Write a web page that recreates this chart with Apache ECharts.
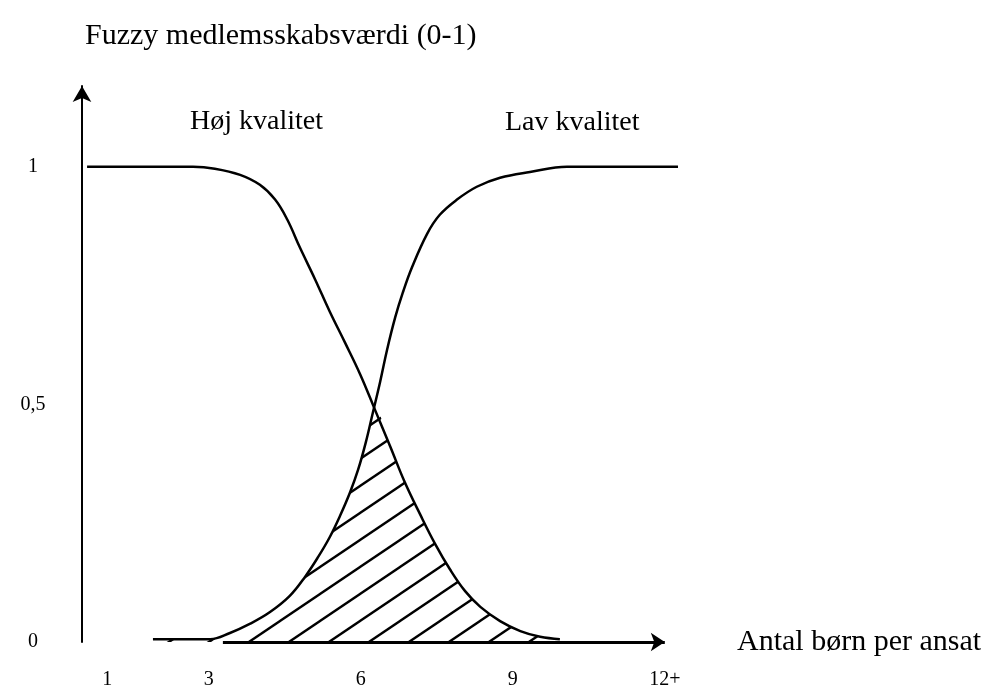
<!DOCTYPE html>
<html><head><meta charset="utf-8">
<script src="https://cdn.jsdelivr.net/npm/echarts@6/dist/echarts.min.js"></script>
<style>html,body{margin:0;padding:0;background:#fff}#chart{width:990px;height:690px}</style>
</head><body><div id="chart"></div>
<script>
// ---- data ----
const seriesNames = ['Høj kvalitet', 'Lav kvalitet'];
const highX = [0.6, 2.69, 3.12, 3.62, 4.01, 4.31, 4.55, 4.8, 5.1, 5.39, 5.69, 5.99, 6.28, 6.58, 6.87, 7.17, 7.47, 7.76, 8.06, 8.36, 8.75, 9.15, 9.54, 9.93];
const highY = [1, 1, 0.996, 0.983, 0.962, 0.931, 0.889, 0.83, 0.763, 0.695, 0.63, 0.563, 0.489, 0.412, 0.336, 0.269, 0.206, 0.153, 0.107, 0.074, 0.044, 0.023, 0.011, 0.006];
const lowX = [1.9, 3.03, 3.42, 3.81, 4.21, 4.6, 4.9, 5.16, 5.39, 5.59, 5.79, 5.95, 6.1, 6.24, 6.38, 6.52, 6.68, 6.83, 7.01, 7.31, 7.56, 7.9, 8.29, 8.75, 9.34, 10.07, 12.26];
const lowY = [0.006, 0.006, 0.019, 0.038, 0.063, 0.097, 0.137, 0.179, 0.221, 0.265, 0.315, 0.363, 0.42, 0.483, 0.546, 0.615, 0.683, 0.735, 0.788, 0.859, 0.899, 0.931, 0.958, 0.977, 0.989, 1, 1];
const xTickValues = [1, 3, 6, 9, 12];
const xTickLabels = ['1', '3', '6', '9', '12+'];
const yTickValues = [0, 0.5, 1];
const yTickLabels = ['0', '0,5', '1'];
const xAxisTitle = 'Antal børn per ansat';
const yAxisTitle = 'Fuzzy medlemsskabsværdi (0-1)';
const xAxisLineFrom = 3.28, xAxisLineTo = 12;

// ---- helpers ----
function interp(xs, ys, x) {
  if (x < xs[0] || x > xs[xs.length - 1]) return 0;
  for (let i = 1; i < xs.length; i++) {
    if (x <= xs[i]) {
      const t = (x - xs[i - 1]) / (xs[i] - xs[i - 1]);
      return ys[i - 1] + t * (ys[i] - ys[i - 1]);
    }
  }
  return ys[ys.length - 1];
}
const highPts = highX.map((x, i) => [x, highY[i]]);
const lowPts = lowX.map((x, i) => [x, lowY[i]]);
const overlap = lowPts.filter(p => p[1] <= interp(highX, highY, p[0]))
  .concat(highPts.filter(p => p[1] < interp(lowX, lowY, p[0])))
  .sort((a, b) => a[0] - b[0]);

function makeHatch() {
  const W = 40, H = 27;
  const c = document.createElement('canvas');
  c.width = W; c.height = H;
  const g = c.getContext('2d');
  g.strokeStyle = '#000';
  g.lineWidth = 2.4;
  [-1, 0, 1].forEach(k => {
    g.beginPath();
    g.moveTo(-W, 2 * H + k * H);
    g.lineTo(2 * W, -H + k * H);
    g.stroke();
  });
  return c;
}

const serif = '"Liberation Serif", "DejaVu Serif", serif';
const SM = 0.4;
const chart = echarts.init(document.getElementById('chart'), null, { renderer: 'canvas' });
chart.setOption({
  backgroundColor: '#fff',
  animation: false,
  grid: { left: 82, right: 310, top: 86, bottom: 47 },
  xAxis: {
    type: 'value', min: 0.5, max: 12.3,
    name: xAxisTitle, nameLocation: 'end', nameGap: 57,
    nameTextStyle: { fontFamily: serif, fontSize: 30, color: '#000', padding: [0, 0, 12, 0] },
    axisLine: { show: false },
    axisTick: { show: false },
    splitLine: { show: false },
    axisLabel: {
      customValues: xTickValues, margin: 28,
      fontFamily: serif, fontSize: 20, color: '#000',
      formatter: v => xTickLabels[xTickValues.indexOf(v)] ?? ''
    }
  },
  yAxis: {
    type: 'value', min: 0, max: 1.17,
    name: yAxisTitle, nameLocation: 'end', nameGap: 50,
    nameTextStyle: { fontFamily: serif, fontSize: 30, color: '#000', align: 'left', verticalAlign: 'middle', padding: [0, 0, 0, 3] },
    axisLine: { show: true, lineStyle: { color: '#000', width: 2 }, symbol: ['none', 'arrow'], symbolSize: [14, 16] },
    axisTick: { show: false },
    splitLine: { show: false },
    axisLabel: {
      customValues: yTickValues, margin: 49, align: 'center',
      fontFamily: serif, fontSize: 20, color: '#000',
      formatter: v => yTickLabels[yTickValues.indexOf(v)] ?? ''
    }
  },
  graphic: [
    { type: 'text', x: 190, y: 122, style: { text: seriesNames[0], font: '28px ' + serif, fill: '#000', verticalAlign: 'middle' } },
    { type: 'text', x: 505, y: 123, style: { text: seriesNames[1], font: '28px ' + serif, fill: '#000', verticalAlign: 'middle' } }
  ],
  series: [
    {
      name: 'overlap', type: 'line', data: overlap, smooth: SM, showSymbol: false, silent: true,
      lineStyle: { width: 0, opacity: 0 },
      areaStyle: { color: { image: makeHatch(), repeat: 'repeat' }, opacity: 1 },
      z: 1,
      markLine: {
        silent: true, symbol: ['none', 'arrow'], symbolSize: [14, 14],
        label: { show: false },
        lineStyle: { color: '#000', width: 3, type: 'solid' },
        data: [[{ coord: [xAxisLineFrom, 0] }, { coord: [xAxisLineTo, 0] }]]
      }
    },
    { name: seriesNames[0], type: 'line', data: highPts, smooth: SM, showSymbol: false, lineStyle: { color: '#000', width: 2.5 }, z: 3 },
    { name: seriesNames[1], type: 'line', data: lowPts, smooth: SM, showSymbol: false, lineStyle: { color: '#000', width: 2.5 }, z: 3 }
  ]
});
</script></body></html>
